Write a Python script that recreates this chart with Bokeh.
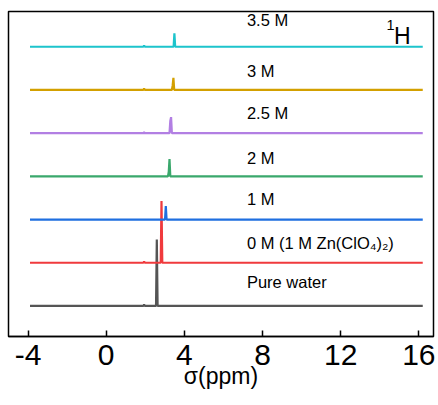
from bokeh.plotting import figure
from bokeh.models import ColumnDataSource, Label, Range1d, FixedTicker
from bokeh.core.properties import value
from bokeh.embed import file_html
from bokeh.resources import INLINE

# ---- data ----
labels = ["Pure water", "0 M (1 M Zn(ClO\u2084)\u2082)", "1 M", "2 M", "2.5 M", "3 M", "3.5 M"]
colors = ["#555555", "#F03A3D", "#1F6FE0", "#3AA86C", "#B27FE3", "#D3A000", "#1DC4CC"]
offsets = [0, 1, 2, 3, 4, 5, 6]

# ppm / intensity points of each spectrum
water_x = [-3.9, 1.90, 1.94, 1.98, 2.55, 2.59, 2.63, 16.2]
water_y = [0, 0, 0.03, 0, 0, 1.54, 0, 0]
m0_x = [-3.9, 1.90, 1.94, 1.98, 2.79, 2.83, 2.87, 16.2]
m0_y = [0, 0, 0.03, 0, 0, 1.43, 0, 0]
m1_x = [-3.9, 3.01, 3.05, 3.09, 16.2]
m1_y = [0, 0, 0.31, 0, 0]
m2_x = [-3.9, 3.16, 3.20, 3.24, 3.28, 16.2]
m2_y = [0, 0, 0.10, 0.40, 0, 0]
m25_x = [-3.9, 1.90, 1.94, 1.98, 3.24, 3.28, 3.32, 3.36, 16.2]
m25_y = [0, 0, 0.02, 0, 0, 0.28, 0.37, 0, 0]
m3_x = [-3.9, 1.90, 1.94, 1.98, 3.36, 3.40, 3.44, 3.48, 16.2]
m3_y = [0, 0, 0.03, 0, 0, 0.10, 0.28, 0, 0]
m35_x = [-3.9, 1.90, 1.94, 1.98, 3.45, 3.49, 3.53, 16.2]
m35_y = [0, 0, 0.03, 0, 0, 0.31, 0, 0]

spectra_x = [water_x, m0_x, m1_x, m2_x, m25_x, m3_x, m35_x]
spectra_y = [water_y, m0_y, m1_y, m2_y, m25_y, m3_y, m35_y]

x_ticks = [-4, 0, 4, 8, 12, 16]
x_tick_labels = ["-4", "0", "4", "8", "12", "16"]

# ---- figure ----
p = figure(width=436, height=400, output_backend="svg", toolbar_location=None,
           x_range=Range1d(-5.0, 16.75), y_range=Range1d(-0.707, 6.816),
           min_border_left=8, min_border_right=3, min_border_top=11, min_border_bottom=64)
p.grid.visible = False
p.background_fill_color = "white"
p.border_fill_color = "white"
p.outline_line_color = "black"
p.outline_line_width = 1.5
p.outline_line_alpha = 1

for xs, ys, off, c in zip(spectra_x, spectra_y, offsets, colors):
    p.line(xs, [y + off for y in ys], line_color=c, line_width=2.2)

# label anchors (text baseline) relative to each trace's offset
label_dy = [0.56, 0.46, 0.47, 0.42, 0.46, 0.44, 0.61]
src = ColumnDataSource(dict(x=[7.2] * len(labels),
                            y=[o + d for o, d in zip(offsets, label_dy)], t=labels))
p.text("x", "y", text="t", source=src, text_font=value("Liberation Sans"),
       text_font_size="16.5px", text_baseline="alphabetic", text_align="left",
       text_color="black")

p.add_layout(Label(x=14.73, y=6.26, text="H", text_font="Liberation Sans", text_font_size="23px",
                   text_baseline="alphabetic", text_align="left", text_color="black"))
p.add_layout(Label(x=14.35, y=6.50, text="1", text_font="Liberation Sans", text_font_size="14.5px",
                   text_baseline="alphabetic", text_align="left", text_color="black"))

ax = p.xaxis[0]
ax.ticker = FixedTicker(ticks=x_ticks)
ax.major_label_overrides = {t: s for t, s in zip(x_ticks, x_tick_labels)}
ax.major_tick_in = 6
ax.major_tick_out = 0
ax.minor_tick_line_color = None
ax.major_tick_line_width = 1.5
ax.axis_line_width = 1.5
ax.major_label_text_font = "Liberation Sans"
ax.major_label_text_font_size = "30px"
ax.major_label_text_color = "black"
ax.major_label_standoff = 8
ax.axis_label = "\u03c3(ppm)"
ax.axis_label_text_font = "Liberation Sans"
ax.axis_label_text_font_size = "23px"
ax.axis_label_text_font_style = "normal"
ax.axis_label_text_color = "black"
ax.axis_label_standoff = -5
p.yaxis.visible = False

open("out.html", "w").write(file_html(p, INLINE))
